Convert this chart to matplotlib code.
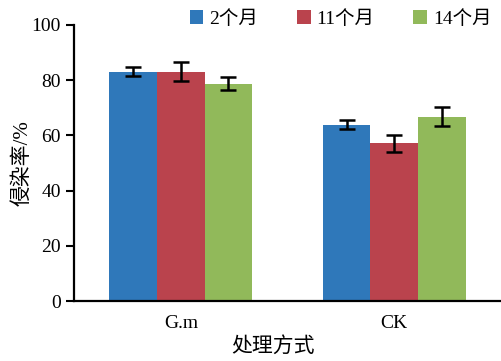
import matplotlib.pyplot as plt
import numpy as np

plt.rcParams['font.family'] = ['Liberation Serif', 'Noto Sans CJK SC']

groups = ['G.m', 'CK']
series = ['2个月', '11个月', '14个月']
m2 = [83.1, 63.9]
m11 = [83.0, 57.1]
m14 = [78.7, 66.8]
err2 = [1.7, 1.75]
err11 = [3.4, 3.0]
err14 = [2.4, 3.3]
colors = ['#2F78BA', '#BA434D', '#91B95A']

fig = plt.figure(figsize=(5.01, 3.61), dpi=100)
ax = fig.add_axes([0.148, 0.166, 0.852, 0.765])

x = np.arange(len(groups))
w = 0.223
for i, (vals, errs) in enumerate([(m2, err2), (m11, err11), (m14, err14)]):
    ax.bar(x + (i - 1) * w, vals, w, color=colors[i], label=series[i],
           yerr=errs, capsize=6,
           error_kw=dict(ecolor='black', elinewidth=1.8, capthick=1.8))

ax.set_xlim(-0.5, 1.5)
ax.set_ylim(0, 100)
ax.set_yticks([0, 20, 40, 60, 80, 100])
ax.set_xticks(x)
ax.set_xticklabels(groups)
ax.tick_params(axis='y', labelsize=14, width=1.5, length=6, direction='out')
ax.tick_params(axis='x', labelsize=14, length=0, pad=10)
for s in ['top', 'right']:
    ax.spines[s].set_visible(False)
for s in ['left', 'bottom']:
    ax.spines[s].set_linewidth(1.6)

ax.set_ylabel('侵染率/%', fontsize=15)
ax.set_xlabel('处理方式', fontsize=15)
ax.yaxis.set_label_coords(-0.097, 0.5)
ax.xaxis.set_label_coords(0.465, -0.13)

ax.legend(ncol=3, frameon=False, fontsize=14, loc='center',
          bbox_to_anchor=(0.68, 0.948), bbox_transform=fig.transFigure,
          handlelength=0.7, handleheight=0.7, handletextpad=0.3,
          columnspacing=2.0)

fig.savefig('out.png', dpi=100)
